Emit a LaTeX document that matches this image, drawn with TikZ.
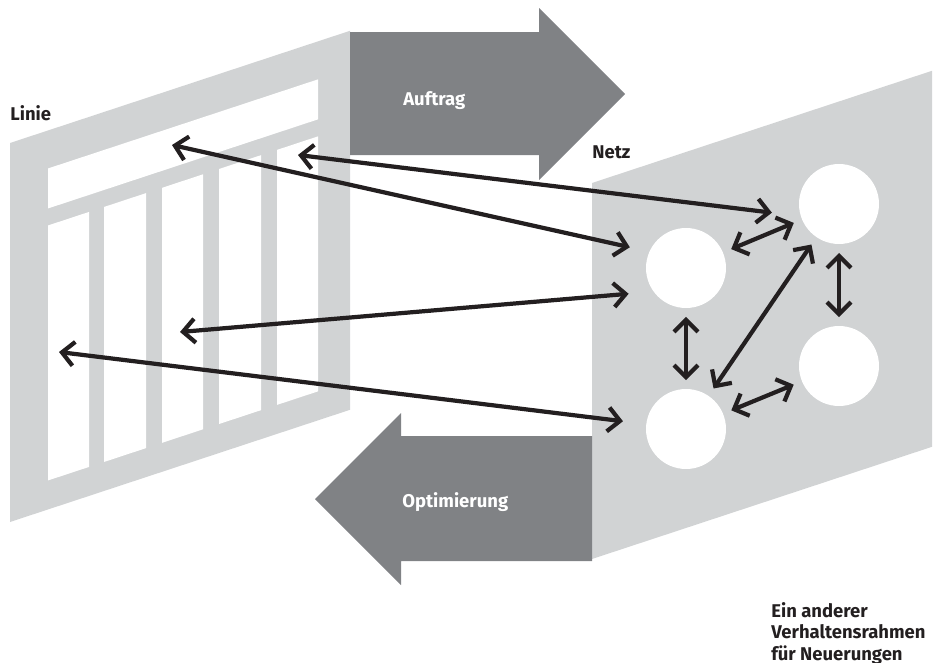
\documentclass[tikz,border=0pt]{standalone}
\usepackage{fontspec}
\setmainfont{Fira Sans}
\usepackage{xcolor}
\usepackage{tikz}
\usetikzlibrary{arrows.meta}
\definecolor{framegray}{HTML}{D1D3D4}
\definecolor{flowgray}{HTML}{808285}
\definecolor{ink}{HTML}{231F20}
\tikzset{
    lbl/.style={font=\fontsize{10.5}{12.2}\selectfont\bfseries, text=ink, inner sep=0pt},
    flowlbl/.style={lbl, text=white},
    knot/.style={circle, fill=white, minimum size=1.6cm, inner sep=0pt, outer sep=0.18cm},
    link/.style={{Straight Barb[length=2.4mm,width=4.8mm]}-{Straight Barb[length=2.4mm,width=4.8mm]},
                 line width=2.4pt, ink, line cap=round, line join=round}
}

\begin{document}
\begin{tikzpicture}[x=0.02cm, y=-0.02cm]
    \useasboundingbox (0,0) rectangle (944,663);
    \begin{scope}[shift={(10,143)}, yslant=0.33]
        \fill[framegray] (0,0) rectangle (340,379);
        \fill[white] (38,38) rectangle (308,78);
        \foreach \a/\b in {38/79, 94/136, 152/193, 209/251, 267/308}
            \fill[white] (\a,95) rectangle (\b,350);
    \end{scope}
    \begin{scope}[shift={(592,183)}, yslant=0.33]
        \fill[framegray] (0,0) rectangle (340,376);
    \end{scope}
    \fill[flowgray] (350,32) -- (539,32) -- (539,8) -- (625,94) -- (539,180) -- (539,155) -- (350,155) -- cycle;
    \fill[flowgray] (592,436) -- (401,436) -- (401,413) -- (315,499) -- (401,585) -- (401,561) -- (592,561) -- cycle;
    \node[knot] (n1) at (686,268) {};
    \node[knot] (n2) at (839,204) {};
    \node[knot] (n3) at (839,366) {};
    \node[knot] (n4) at (686,429) {};
    \node[lbl, anchor=base west] (linie) at (10,120) {Linie};
    \node[lbl, anchor=base west] (netz) at (592,158) {Netz};
    \node[flowlbl, anchor=base west] (auftrag) at (403,105) {Auftrag};
    \node[flowlbl, anchor=base west] (optimierung) at (402,507) {Optimierung};
    \node[lbl, anchor=north west, align=left] (rahmen) at (771,602) {Ein anderer\\Verhaltensrahmen\\für Neuerungen};
    \coordinate (l1) at (172,145);
    \coordinate (l2) at (298,155);
    \coordinate (l3) at (180,332);
    \coordinate (l4) at (59,352);
    \draw[link, shorten >=0.22cm] (l1) -- (n1.158);
    \draw[link, shorten >=0.39cm] (l2) -- (n2.193);
    \draw[link, shorten >=0.3cm] (l3) -- (n1.210);
    \draw[link, shorten >=0.29cm] (l4) -- (n4.173);
    \draw[link] (n1) -- (n2);
    \draw[link] (n2) -- (n4);
    \draw[link] (n2) -- (n3);
    \draw[link] (n1) -- (n4);
    \draw[link] (n4) -- (n3);
\end{tikzpicture}
\end{document}
